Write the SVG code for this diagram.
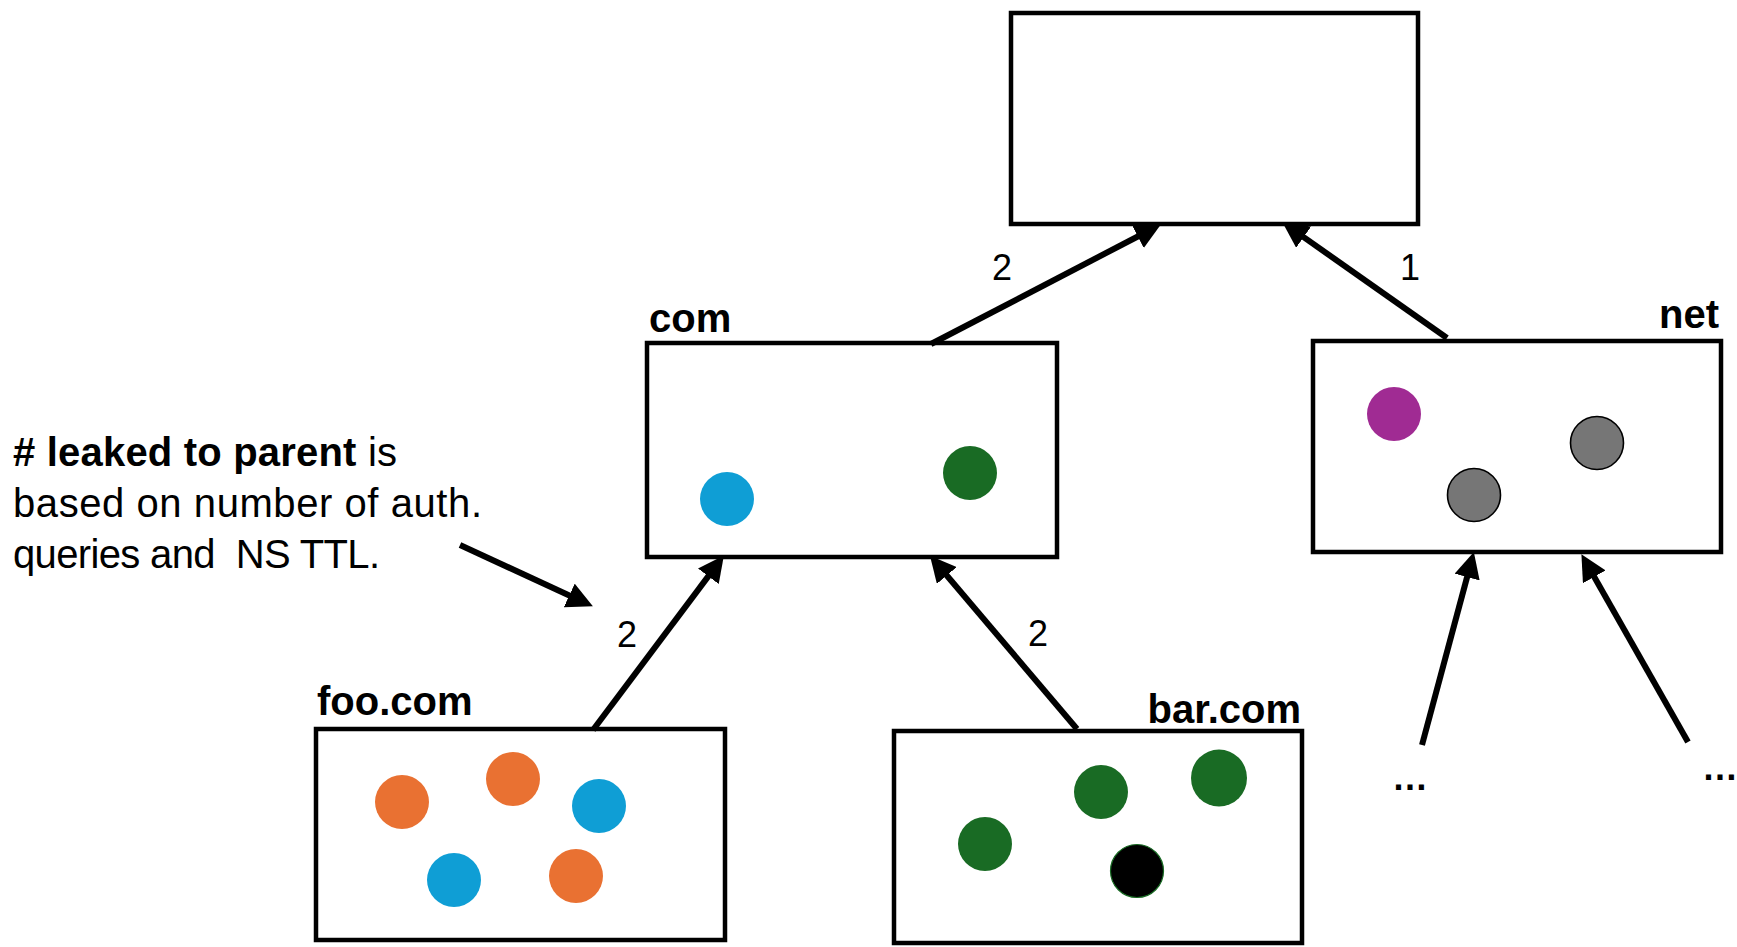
<svg xmlns="http://www.w3.org/2000/svg" width="1737" height="947" viewBox="0 0 1737 947">
  <style>
    .box { fill: #ffffff; stroke: #000000; stroke-width: 4.5; }
    .zone { font-family: "Liberation Sans", Arial, sans-serif; font-weight: bold; font-size: 40px; fill: #000; }
    .num { font-family: "Liberation Sans", Arial, sans-serif; font-size: 36px; fill: #000; }
    .note { font-family: "Liberation Sans", Arial, sans-serif; font-size: 40px; fill: #000; }
    .dots { font-family: "Liberation Sans", Arial, sans-serif; font-weight: bold; font-size: 36px; fill: #000; }
    .edge { stroke: #000; stroke-width: 6; fill: none; marker-end: url(#head); }
    .orange { fill: #E97132; }
    .blue { fill: #0F9ED5; }
    .green { fill: #196B24; }
    .purple { fill: #A02B93; }
    .gray { fill: #767676; stroke: #000; stroke-width: 1.6; }
    .black { fill: #000; stroke: #196B24; stroke-width: 1.2; }
  </style>
  <defs>
    <marker id="head" markerUnits="userSpaceOnUse" markerWidth="26" markerHeight="26" viewBox="0 0 24 24" refX="10" refY="12" orient="auto">
      <path d="M0,0 L24,12 L0,24 z" fill="#000"/>
    </marker>
  </defs>
  <rect width="1737" height="947" fill="#ffffff"/>

  <!-- root zone -->
  <g id="root">
    <rect class="box" x="1011" y="13" width="407" height="211"/>
  </g>

  <!-- com -->
  <g id="com">
    <text class="zone" x="649" y="332">com</text>
    <rect class="box" x="647" y="343" width="410" height="214"/>
    <circle class="blue" cx="727" cy="499" r="27"/>
    <circle class="green" cx="970" cy="473" r="27"/>
  </g>

  <!-- net -->
  <g id="net">
    <text class="zone" x="1719" y="328" text-anchor="end">net</text>
    <rect class="box" x="1313" y="341" width="408" height="211"/>
    <circle class="purple" cx="1394" cy="414" r="27"/>
    <circle class="gray" cx="1597" cy="443" r="26.5"/>
    <circle class="gray" cx="1474" cy="495" r="26.5"/>
  </g>

  <!-- foo.com -->
  <g id="foo-com">
    <text class="zone" x="317" y="715">foo.com</text>
    <rect class="box" x="316" y="729" width="409" height="211"/>
    <circle class="orange" cx="402" cy="802" r="27"/>
    <circle class="orange" cx="513" cy="779" r="27"/>
    <circle class="blue" cx="599" cy="806" r="27"/>
    <circle class="blue" cx="454" cy="880" r="27"/>
    <circle class="orange" cx="576" cy="876" r="27"/>
  </g>

  <!-- bar.com -->
  <g id="bar-com">
    <text class="zone" x="1301" y="723" text-anchor="end">bar.com</text>
    <rect class="box" x="894" y="731" width="408" height="212"/>
    <circle class="green" cx="985" cy="844" r="27"/>
    <circle class="green" cx="1101" cy="792" r="27"/>
    <ellipse class="green" cx="1219" cy="778" rx="28" ry="28.5"/>
    <circle class="black" cx="1137" cy="871" r="26.5"/>
  </g>

  <!-- explanatory note -->
  <g id="note">
    <text class="note" x="13" y="466" textLength="384" lengthAdjust="spacing"><tspan font-weight="bold"># leaked to parent</tspan> is</text>
    <text class="note" x="13" y="517" textLength="469" lengthAdjust="spacing">based on number of auth.</text>
    <text class="note" x="13" y="568" textLength="367" lengthAdjust="spacing" xml:space="preserve">queries and  NS TTL.</text>
  </g>

  <!-- unnamed children of net -->
  <g id="net-children">
    <text class="dots" x="1410" y="790" text-anchor="middle">…</text>
    <text class="dots" x="1720" y="780" text-anchor="middle">…</text>
  </g>

  <!-- connectors -->
  <g id="connectors">
    <line class="edge" x1="931" y1="344" x2="1147.4" y2="231.5"/>
    <line class="edge" x1="1447" y1="338" x2="1294.8" y2="230.9"/>
    <line class="edge" x1="593" y1="730" x2="714.8" y2="567.6"/>
    <line class="edge" x1="1077" y1="729" x2="939.8" y2="567.2"/>
    <line class="edge" x1="1422" y1="745" x2="1469.9" y2="566.6"/>
    <line class="edge" x1="1688" y1="742" x2="1588.9" y2="567.4"/>
    <line class="edge" x1="460" y1="545" x2="579.1" y2="600"/>
    <text class="num" x="1002" y="280" text-anchor="middle">2</text>
    <text class="num" x="1410" y="280" text-anchor="middle">1</text>
    <text class="num" x="627" y="647" text-anchor="middle">2</text>
    <text class="num" x="1038" y="646" text-anchor="middle">2</text>
  </g>
</svg>
